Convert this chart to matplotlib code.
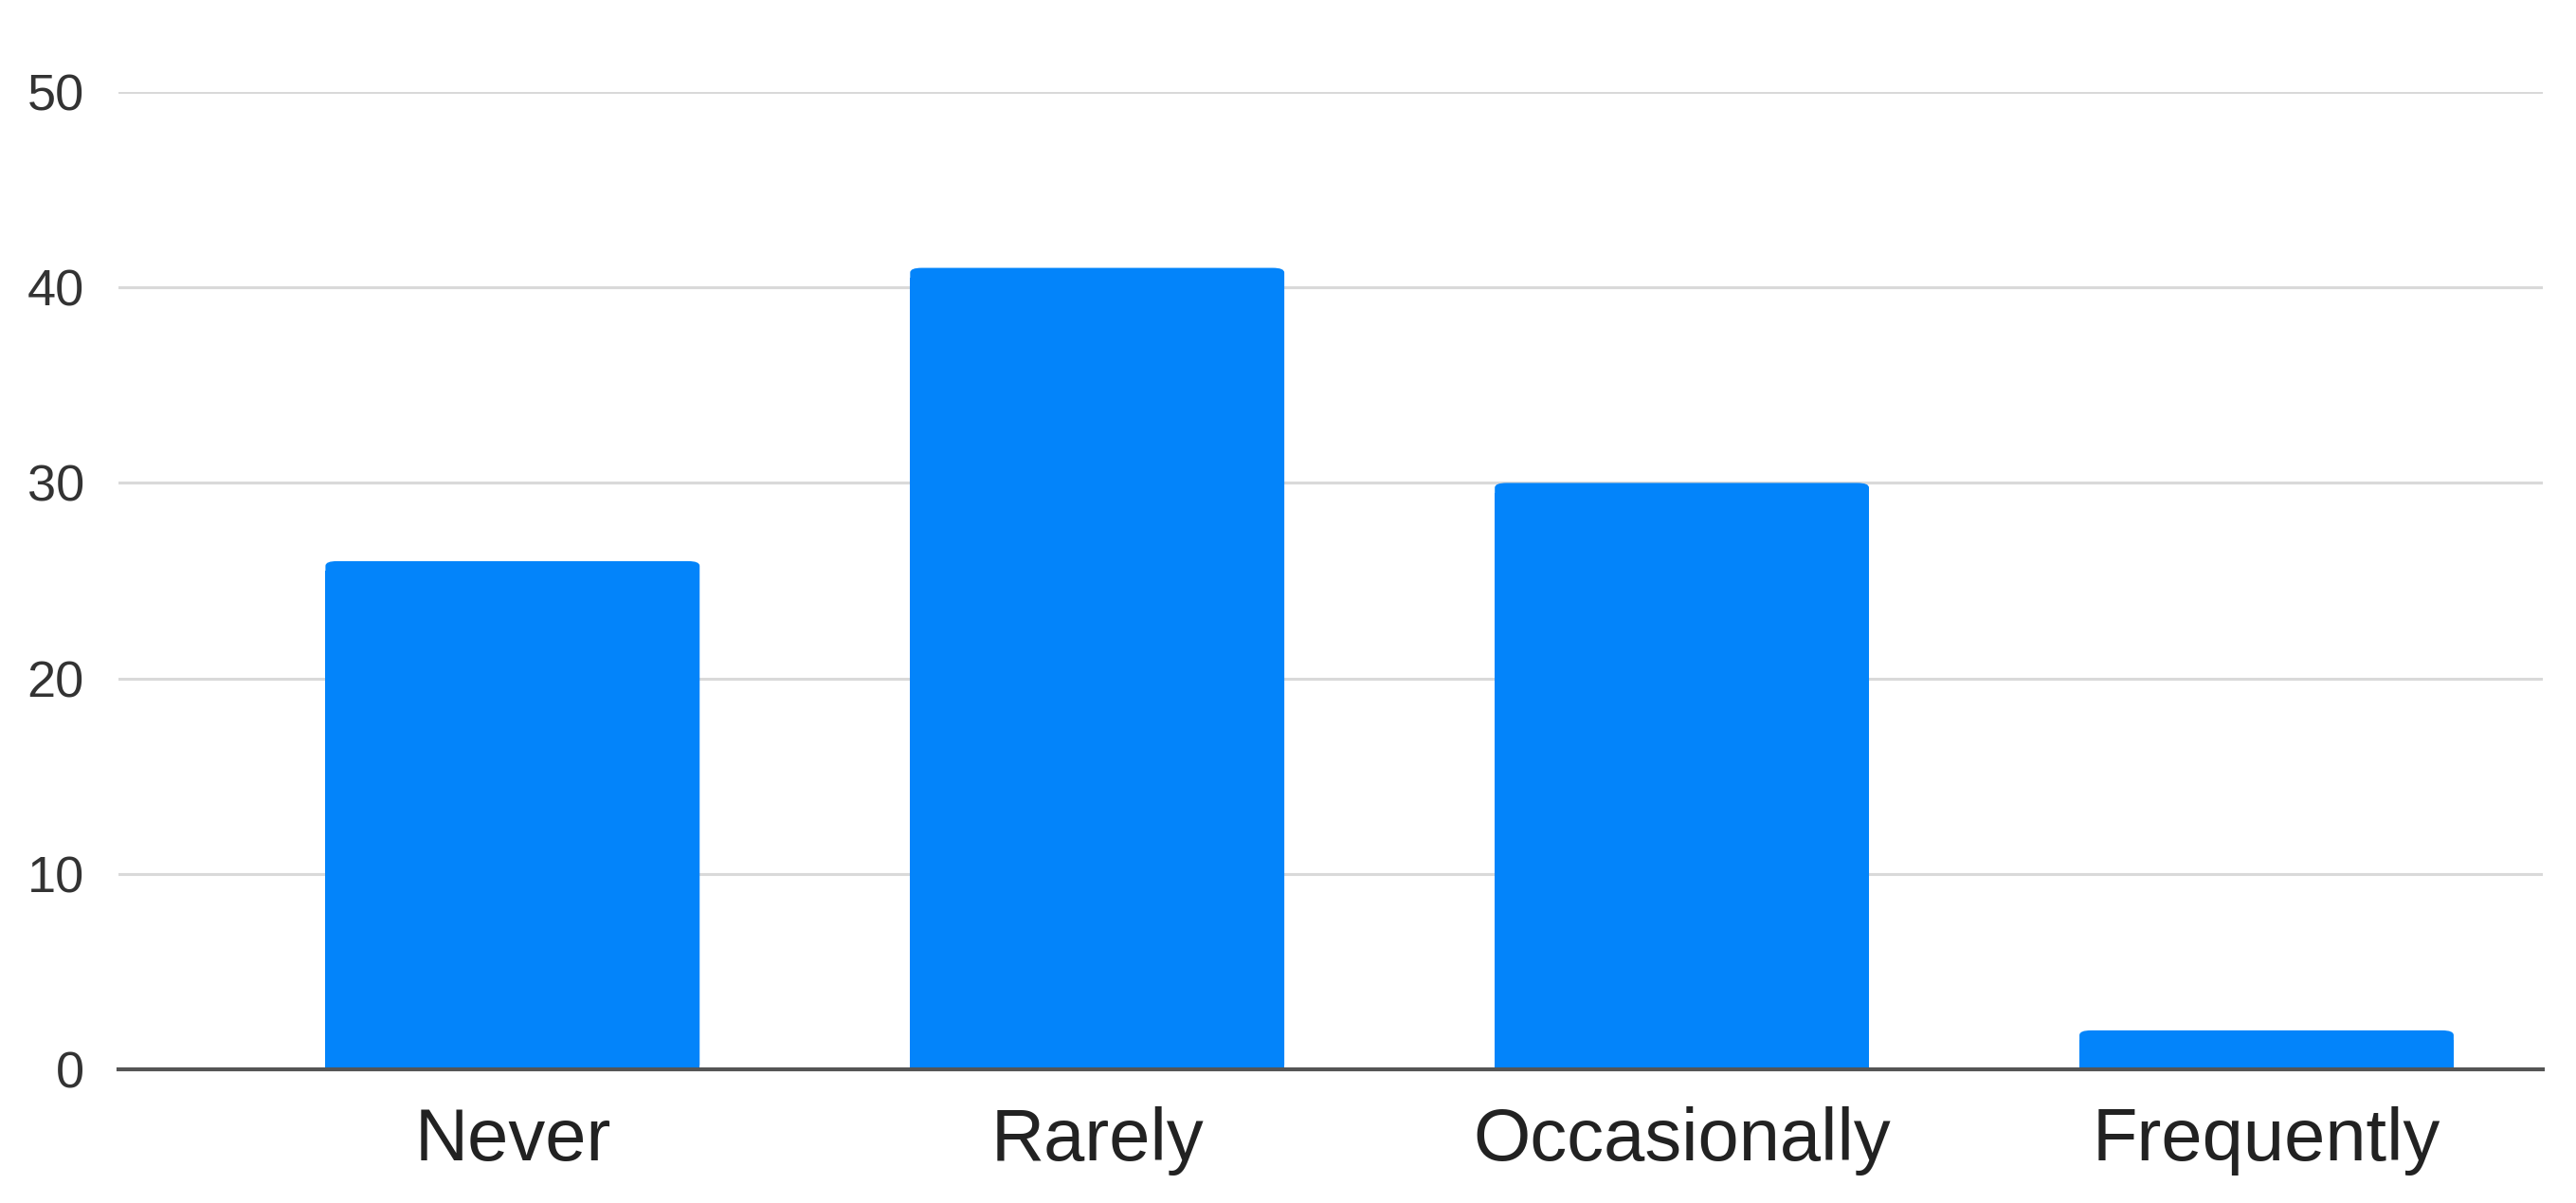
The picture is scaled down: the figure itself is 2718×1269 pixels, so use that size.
import matplotlib
matplotlib.use("Agg")
import matplotlib.pyplot as plt
from matplotlib.patches import FancyBboxPatch

categories = ["Never", "Rarely", "Occasionally", "Frequently"]
values = [26, 41, 30, 2]
yticks = [0, 10, 20, 30, 40, 50]

plt.rcParams['font.family'] = ['Liberation Sans', 'DejaVu Sans']

BAR_COLOR = "#0384FA"

fig = plt.figure(figsize=(27.18, 12.69), dpi=100)
ax = fig.add_axes([0.046, 0.111, 0.941, 0.8126])

bars = ax.bar(range(len(categories)), values, width=0.64, color=BAR_COLOR, zorder=3)
# round the top corners slightly
for b in bars:
    x, y = b.get_x(), b.get_y()
    w, h = b.get_width(), b.get_height()
    b.set_height(max(h - 0.5, 0))
    p = FancyBboxPatch((x, y), w, h, boxstyle="round,pad=0,rounding_size=0.02",
                       mutation_aspect=12, facecolor=BAR_COLOR, edgecolor="none",
                       linewidth=0, zorder=3)
    ax.add_patch(p)

ax.set_xlim(-0.674, 3.472)
ax.set_ylim(0, 50)
ax.set_yticks(yticks)
ax.set_yticklabels([str(t) for t in yticks])
ax.set_xticks(range(len(categories)))
ax.set_xticklabels(categories)

ax.grid(axis='y', color="#D9D9D9", linewidth=2.2, zorder=0)
ax.set_axisbelow(True)
for s in ["top", "right", "left"]:
    ax.spines[s].set_visible(False)
ax.spines["bottom"].set_color("#555555")
ax.spines["bottom"].set_linewidth(3)
ax.spines["bottom"].set_zorder(4)

ax.tick_params(axis='y', length=0, pad=26, labelsize=39, labelcolor="#333333")
ax.tick_params(axis='x', length=0, pad=28, labelsize=56, labelcolor="#222222")

fig.savefig("out.png", dpi=100, facecolor="white")
